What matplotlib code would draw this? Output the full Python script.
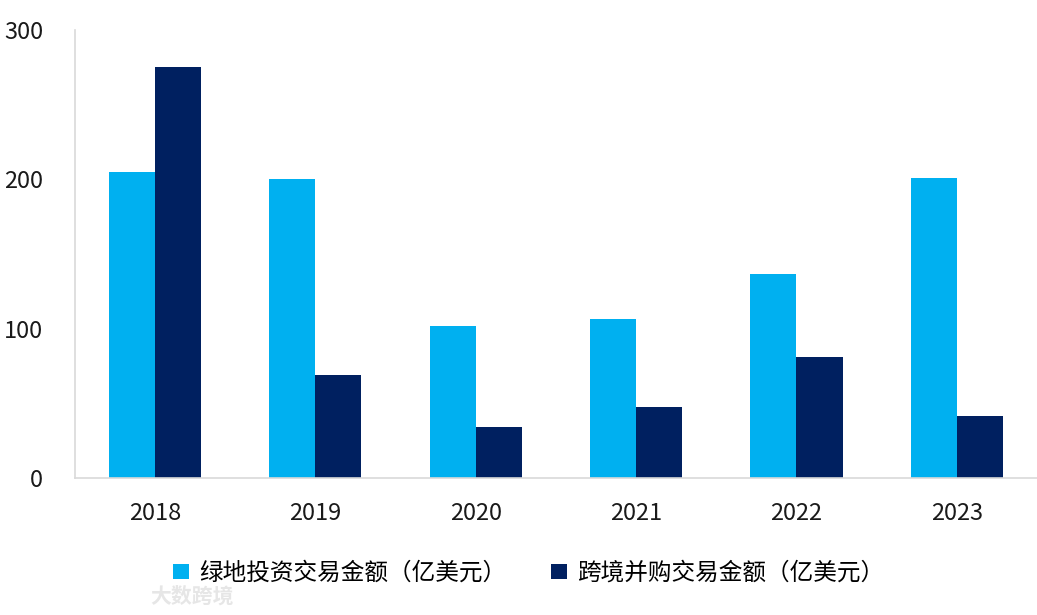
import matplotlib
matplotlib.use("Agg")
import matplotlib.pyplot as plt
import numpy as np

plt.rcParams['font.family'] = ['Noto Sans CJK SC', 'DejaVu Sans']

years = ["2018", "2019", "2020", "2021", "2022", "2023"]
greenfield = [205, 200, 102, 106.5, 136.5, 201]
cross_ma = [275, 69, 34, 47.5, 81, 41.5]
labels = ["绿地投资交易金额（亿美元）", "跨境并购交易金额（亿美元）"]
colors = ["#00B0F0", "#002060"]

fig = plt.figure(figsize=(10.37, 6.15), dpi=100)
ax = fig.add_axes([0.0723, 0.2228, 0.9277, 0.7284])

x = np.arange(len(years))
w = 0.287
ax.bar(x - w / 2, greenfield, w, color=colors[0], label=labels[0])
ax.bar(x + w / 2, cross_ma, w, color=colors[1], label=labels[1])

ax.set_xlim(-0.5, len(years) - 0.5)
ax.set_ylim(0, 300)
ax.set_yticks([0, 100, 200, 300])
ax.set_xticks(x)
ax.set_xticklabels(years)

for s in ["top", "right"]:
    ax.spines[s].set_visible(False)
for s in ["left", "bottom"]:
    ax.spines[s].set_color("#D9D9D9")
    ax.spines[s].set_linewidth(1.2)

ax.tick_params(axis="y", length=0, pad=23, labelsize=17, labelcolor="#1a1a1a")
ax.tick_params(axis="x", length=0, pad=17, labelsize=17, labelcolor="#1a1a1a")

fig.legend(loc="center", bbox_to_anchor=(0.51, 0.068), ncol=2, frameon=False,
           fontsize=17, handlelength=0.65, handleheight=0.65, handletextpad=0.45,
           columnspacing=1.9)

# watermark
fig.text(0.145, 0.03, "大数跨境", fontsize=15, color="#e6e6e6", fontweight="bold",
         va="center", ha="left")

fig.savefig("out.png", dpi=100)
